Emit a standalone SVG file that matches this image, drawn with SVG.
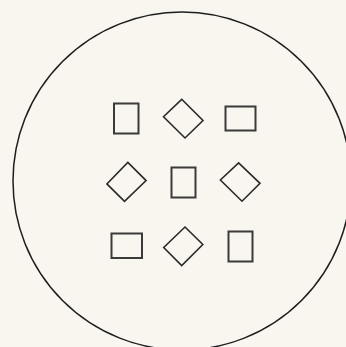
<svg xmlns="http://www.w3.org/2000/svg" width="346" height="347" viewBox="0 0 346 347">
  <style>
    .bg { fill: #f9f6ef; }
    .outer { fill: none; stroke: #1e1e1e; stroke-width: 1.5; }
    .sq { fill: none; stroke: #3a3a3a; stroke-width: 2; }
    .dm { fill: none; stroke: #2a2a2a; stroke-width: 1.6; stroke-linejoin: miter; }
  </style>
  <rect class="bg" x="0" y="0" width="346" height="347"/>
  <g id="boundary">
    <circle class="outer" cx="182" cy="181" r="169"/>
  </g>
  <g id="r1c1"><rect class="sq" x="114" y="103.5" width="24.5" height="30"/></g>
  <g id="r1c2"><polygon class="dm" points="181.7,99.3 203,120.5 185,138 163.5,116.7"/></g>
  <g id="r1c3"><rect class="sq" x="225.5" y="106.5" width="30" height="24"/></g>
  <g id="r2c1"><polygon class="dm" points="127.8,162.4 146.1,180.6 124.5,201.4 106.9,183.9"/></g>
  <g id="r2c2"><rect class="sq" x="171.5" y="167.5" width="24" height="30"/></g>
  <g id="r2c3"><polygon class="dm" points="238.6,162.8 260,183.3 242,201.2 220.4,180"/></g>
  <g id="r3c1"><rect class="sq" x="111.5" y="233.5" width="30.5" height="24.5"/></g>
  <g id="r3c2"><polygon class="dm" points="185,227 202.8,244.5 181.7,265.5 163.7,247.5"/></g>
  <g id="r3c3"><rect class="sq" x="228.5" y="231.5" width="24" height="30"/></g>
</svg>
